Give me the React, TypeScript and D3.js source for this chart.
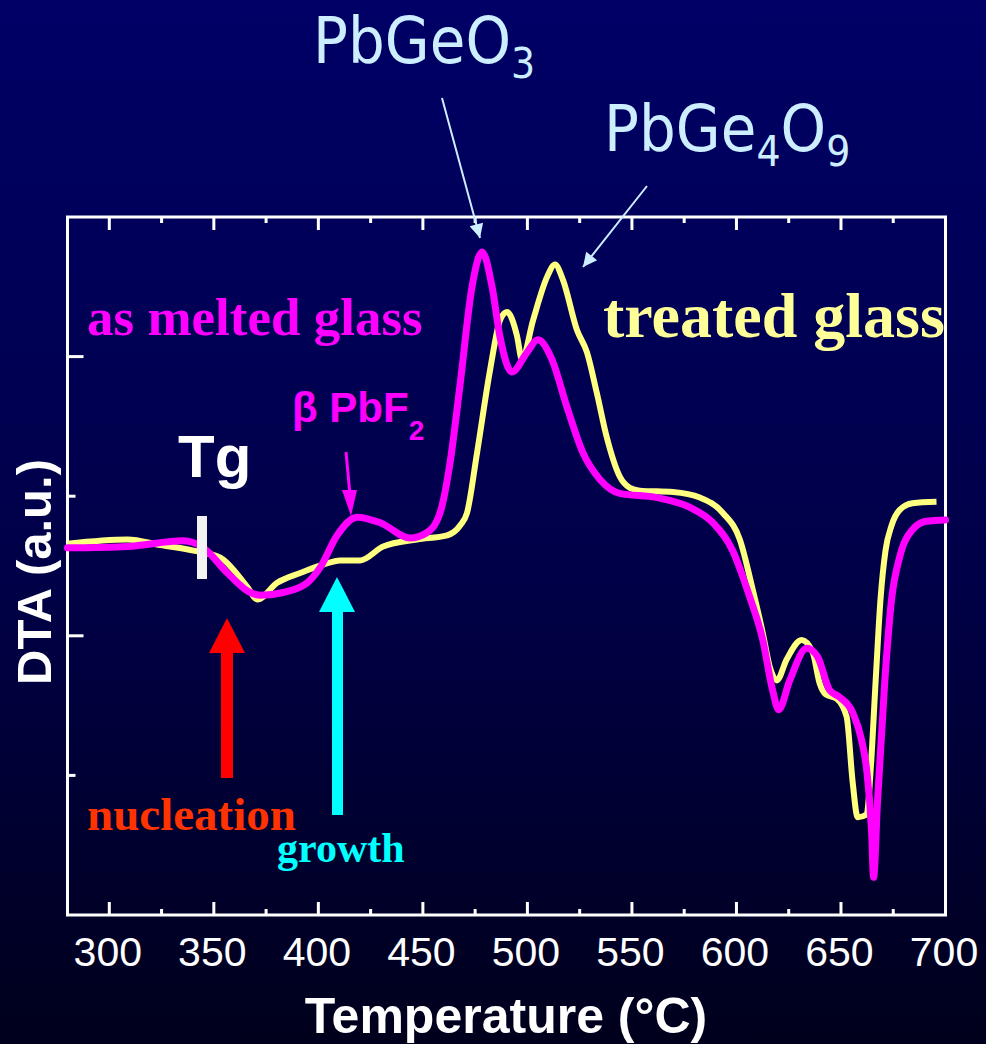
import React, { useMemo } from "react";
import * as d3 from "d3";

// As melted glass (magenta)
const meltedTemp = [280.0, 308.7, 335.4, 345.0, 356.5, 367.4, 372.2, 383.2, 394.7, 400.9, 409.0, 418.6, 429.6, 443.9, 452.0, 458.2, 463.0, 467.8, 473.5, 478.3, 483.1, 486.9, 492.6, 499.8, 505.0, 511.7, 518.9, 526.6, 534.7, 544.2, 561.9, 577.7, 588.7, 598.2, 606.3, 612.6, 617.3, 620.2, 625.5, 633.6, 638.8, 644.6, 649.4, 655.6, 659.9, 662.3, 664.6, 665.6, 667.5, 670.9, 674.2, 678.0, 684.2, 690.9, 700.0];
const meltedDTA = [2.63, 2.64, 2.68, 2.63, 2.45, 2.31, 2.29, 2.31, 2.38, 2.49, 2.72, 2.85, 2.81, 2.70, 2.74, 2.88, 3.24, 3.80, 4.50, 4.75, 4.50, 4.14, 3.89, 4.03, 4.12, 3.98, 3.64, 3.31, 3.12, 3.02, 2.99, 2.92, 2.81, 2.61, 2.28, 1.97, 1.61, 1.47, 1.68, 1.91, 1.85, 1.61, 1.56, 1.45, 1.25, 1.04, 0.61, 0.27, 0.82, 1.66, 2.26, 2.56, 2.76, 2.82, 2.83];

// Treated glass (yellow)
const treatedTemp = [280.0, 308.7, 324.4, 340.2, 353.1, 366.0, 370.8, 380.3, 391.3, 402.3, 410.4, 420.0, 431.0, 447.2, 461.6, 467.8, 471.1, 475.9, 482.1, 486.9, 490.2, 495.0, 497.4, 502.7, 509.4, 513.2, 517.0, 523.7, 528.5, 533.2, 538.0, 544.2, 549.0, 553.8, 569.6, 582.5, 593.5, 601.6, 607.8, 612.6, 615.9, 619.3, 624.0, 631.2, 636.5, 639.8, 642.7, 647.9, 652.7, 655.6, 658.0, 662.3, 664.2, 666.6, 668.9, 671.3, 674.2, 678.0, 684.2, 695.7];
const treatedDTA = [2.66, 2.69, 2.65, 2.61, 2.56, 2.35, 2.26, 2.38, 2.45, 2.51, 2.54, 2.54, 2.64, 2.69, 2.72, 2.79, 2.88, 3.31, 3.90, 4.26, 4.32, 4.15, 3.98, 4.26, 4.57, 4.66, 4.55, 4.19, 4.03, 3.74, 3.42, 3.14, 3.06, 3.04, 3.03, 2.99, 2.88, 2.69, 2.33, 2.02, 1.78, 1.68, 1.83, 1.97, 1.88, 1.66, 1.58, 1.55, 1.42, 0.95, 0.70, 0.72, 1.04, 1.68, 2.26, 2.61, 2.79, 2.90, 2.95, 2.96];

const xMajorTicks = [300, 350, 400, 450, 500, 550, 600, 650, 700];
const xMinorTicks = [325, 375, 425, 475, 525, 575, 625, 675];
const yMajorTicks = [2, 4];
const yMinorTicks = [1, 3];

const W = 986;
const H = 1044;
const L = 67.5, R = 945.5, T = 217, B = 915;

const serif = "'Liberation Serif', 'Times New Roman', serif";
const sans = "'Liberation Sans', Arial, sans-serif";
const labelFont = "'DejaVu Sans', sans-serif";

export default function App() {
  const x = useMemo(() => d3.scaleLinear().domain([280, 700]).range([L, R]), []);
  const y = useMemo(() => d3.scaleLinear().domain([0, 5]).range([B, T]), []);
  const line = d3.line<[number, number]>().x(d => x(d[0])).y(d => y(d[1])).curve(d3.curveMonotoneX);
  const melted = meltedTemp.map((t, i) => [t, meltedDTA[i]] as [number, number]);
  const treated = treatedTemp.map((t, i) => [t, treatedDTA[i]] as [number, number]);
  const lb = "#CCEEFF";

  return (
    <svg width={W} height={H} style={{ position: "absolute", left: 0, top: 0 }}>
      <defs>
        <linearGradient id="bg" x1="0" y1="0" x2="0" y2="1">
          <stop offset="0%" stopColor="#000066" />
          <stop offset="55%" stopColor="#000048" />
          <stop offset="100%" stopColor="#00001C" />
        </linearGradient>
        <marker id="ahBlue" viewBox="0 0 10 10" refX="10" refY="5" markerWidth="16" markerHeight="14" markerUnits="userSpaceOnUse" orient="auto">
          <path d="M0,0 L10,5 L0,10 z" fill={lb} />
        </marker>
      </defs>
      <rect x={0} y={0} width={W} height={H} fill="url(#bg)" />

      {/* frame */}
      <rect x={L} y={T} width={R - L} height={B - T} fill="none" stroke="#FFFFFF" strokeWidth={3} />
      {xMajorTicks.map(t => (
        <g key={"xM" + t}>
          <line x1={x(t)} x2={x(t)} y1={B} y2={B - 13} stroke="#fff" strokeWidth={3} />
          <line x1={x(t)} x2={x(t)} y1={T} y2={T + 13} stroke="#fff" strokeWidth={3} />
        </g>
      ))}
      {xMinorTicks.map(t => (
        <g key={"xm" + t}>
          <line x1={x(t)} x2={x(t)} y1={B} y2={B - 6} stroke="#fff" strokeWidth={3} />
          <line x1={x(t)} x2={x(t)} y1={T} y2={T + 6} stroke="#fff" strokeWidth={3} />
        </g>
      ))}
      {yMajorTicks.map(t => (
        <line key={"yM" + t} x1={L} x2={L + 16} y1={y(t)} y2={y(t)} stroke="#fff" strokeWidth={3} />
      ))}
      {yMinorTicks.map(t => (
        <line key={"ym" + t} x1={L} x2={L + 8} y1={y(t)} y2={y(t)} stroke="#fff" strokeWidth={3} />
      ))}
      {xMajorTicks.map(t => (
        <text key={"xl" + t} x={x(t) - 1.5} y={966} fill="#fff" fontFamily={sans} fontSize={41} textAnchor="middle">{t}</text>
      ))}
      <text x={506} y={1033} fill="#fff" fontFamily={sans} fontSize={50} fontWeight="bold" textAnchor="middle">Temperature (°C)</text>
      <text transform="translate(51,572) rotate(-90)" fill="#fff" fontFamily={sans} fontSize={49} fontWeight="bold" textAnchor="middle">DTA (a.u.)</text>

      {/* curves */}
      <path d={line(treated) || ""} fill="none" stroke="#FFFF80" strokeWidth={6} strokeLinejoin="round" strokeLinecap="butt" />
      <path d={line(melted) || ""} fill="none" stroke="#FF00FF" strokeWidth={7} strokeLinejoin="round" strokeLinecap="round" />

      {/* Tg marker */}
      <rect x={197} y={516} width={10} height={63} fill="#F2F2F2" />
      <text x={178} y={477} fill="#fff" fontFamily={sans} fontSize={60} fontWeight="bold">Tg</text>

      {/* labels */}
      <text x={87} y={335} fill="#FF00FF" fontFamily={serif} fontSize={53} fontWeight="bold">as melted glass</text>
      <text x={603} y={337} fill="#FFFF99" fontFamily={serif} fontSize={64} fontWeight="bold">treated glass</text>

      <text x={292} y={422} fill="#FF00FF" fontFamily={sans} fontSize={42} fontWeight="bold">
        β PbF<tspan fontSize={28} dy={18}>2</tspan>
      </text>
      <line x1={346} y1={452} x2={350} y2={495} stroke="#FF00FF" strokeWidth={3} />
      <path d="M342,490 L357,490 L351,516 z" fill="#FF00FF" />

      {/* nucleation arrow */}
      <rect x={221} y={650} width={12} height={128} fill="#FF0000" />
      <path d="M209,653 L245,653 L227,618 z" fill="#FF0000" />
      <text x={87} y={830} fill="#FF3300" fontFamily={serif} fontSize={47} fontWeight="bold">nucleation</text>

      {/* growth arrow */}
      <rect x={332} y={608} width={11} height={207} fill="#00FFFF" />
      <path d="M319,612 L355,612 L337,577 z" fill="#00FFFF" />
      <text x={277} y={862} fill="#00FFFF" fontFamily={serif} fontSize={42} fontWeight="bold">growth</text>

      {/* phase labels */}
      <text transform="translate(313,63) scale(1,1.12)" fill={lb} fontFamily={labelFont} fontSize={58}>
        PbGeO<tspan fontSize={38} dy={13}>3</tspan>
      </text>
      <text transform="translate(604,151) scale(1,1.12)" fill={lb} fontFamily={labelFont} fontSize={58}>
        PbGe<tspan fontSize={38} dy={13}>4</tspan><tspan dy={-13}>O</tspan><tspan fontSize={38} dy={13}>9</tspan>
      </text>
      <line x1={442} y1={98} x2={480} y2={238} stroke={lb} strokeWidth={2} markerEnd="url(#ahBlue)" />
      <line x1={647} y1={186} x2={583} y2={267} stroke={lb} strokeWidth={2} markerEnd="url(#ahBlue)" />
    </svg>
  );
}
